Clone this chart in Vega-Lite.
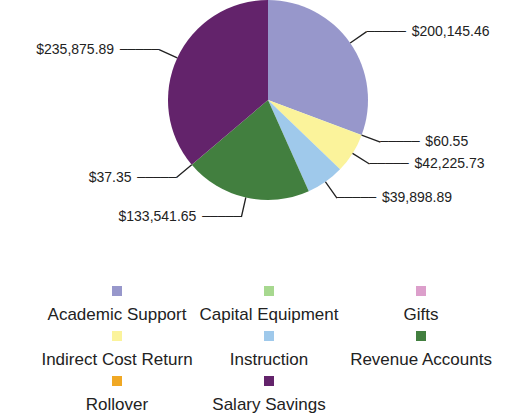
{
  "$schema": "https://vega.github.io/schema/vega-lite/v6.json",
  "background": "white",
  "padding": {"left": 17, "top": 0, "right": 0, "bottom": 0},
  "config": {
    "view": {"stroke": null},
    "font": "Liberation Sans",
    "header": {"labels": false, "title": null, "labelExpr": "''", "labelPadding": 0},
    "headerFacet": {"labels": false, "title": null, "labelExpr": "''", "labelPadding": 0}
  },
  "data": {"values": [
    {"category": "Academic Support", "value": 200145.46},
    {"category": "Capital Equipment", "value": 60.55},
    {"category": "Gifts", "value": 0},
    {"category": "Indirect Cost Return", "value": 42225.73},
    {"category": "Instruction", "value": 39898.89},
    {"category": "Revenue Accounts", "value": 133541.65},
    {"category": "Rollover", "value": 37.35},
    {"category": "Salary Savings", "value": 235875.89}
  ]},
  "spacing": 86,
  "bounds": "flush",
  "vconcat": [
    {
      "width": 502,
      "height": 200,
      "encoding": {
        "theta": {"field": "value", "type": "quantitative", "stack": true},
        "order": {"field": "category", "type": "ordinal", "sort": "ascending"}
      },
      "layer": [
        {
          "mark": {"type": "arc", "outerRadius": 100},
          "encoding": {
            "color": {
              "field": "category", "type": "nominal", "legend": null,
              "scale": {
                "domain": ["Academic Support", "Capital Equipment", "Gifts", "Indirect Cost Return", "Instruction", "Revenue Accounts", "Rollover", "Salary Savings"],
                "range": ["#9797cb", "#a7d88f", "#dc9fcb", "#fbf39b", "#9fc9eb", "#427f3f", "#f0a824", "#63236b"]
              }
            }
          }
        },
        {
          "mark": {"type": "arc", "innerRadius": 100, "outerRadius": 120, "padAngle": 3, "filled": false, "stroke": "#222222", "strokeWidth": 1.3},
          "encoding": {
            "detail": {"field": "category", "type": "nominal"},
            "strokeOpacity": {"condition": {"test": "datum.value > 0", "value": 1}, "value": 0}
          }
        },
        {
          "mark": {"type": "text", "radius": 120, "align": "left", "baseline": "middle", "font": "DejaVu Sans", "fontSize": 13, "color": "#222222"},
          "encoding": {
            "detail": {"field": "category", "type": "nominal"},
            "text": {"condition": {"test": "datum.value > 0 && datum.category < 'R'", "value": "─────"}, "value": ""}
          }
        },
        {
          "mark": {"type": "text", "radius": 120, "align": "right", "baseline": "middle", "font": "DejaVu Sans", "fontSize": 13, "color": "#222222"},
          "encoding": {
            "detail": {"field": "category", "type": "nominal"},
            "text": {"condition": {"test": "datum.value > 0 && datum.category >= 'R'", "value": "─────"}, "value": ""}
          }
        },
        {
          "mark": {"type": "text", "radius": 120, "align": "left", "baseline": "middle", "dx": 45, "fontSize": 14, "color": "#222222"},
          "encoding": {
            "detail": {"field": "category", "type": "nominal"},
            "text": {"field": "value", "type": "quantitative", "format": "$,.2f", "condition": {"test": "!(datum.value > 0 && datum.category < 'R')", "value": ""}}
          }
        },
        {
          "mark": {"type": "text", "radius": 120, "align": "right", "baseline": "middle", "dx": -45, "fontSize": 14, "color": "#222222"},
          "encoding": {
            "detail": {"field": "category", "type": "nominal"},
            "text": {"field": "value", "type": "quantitative", "format": "$,.2f", "condition": {"test": "!(datum.value > 0 && datum.category >= 'R')", "value": ""}}
          }
        }
      ]
    },
    {
      "facet": {"field": "category", "type": "nominal", "title": null, "header": {"labels": false, "title": null, "labelExpr": "''", "labelPadding": 0}},
      "columns": 3,
      "spacing": {"row": 11, "column": 0},
      "bounds": "flush",
      "spec": {
        "width": 152,
        "height": 34,
        "layer": [
          {
            "mark": {"type": "square", "size": 100, "opacity": 1, "yOffset": -12, "xOffset": 24},
            "encoding": {
              "color": {
                "field": "category", "type": "nominal", "legend": null,
                "scale": {
                  "domain": ["Academic Support", "Capital Equipment", "Gifts", "Indirect Cost Return", "Instruction", "Revenue Accounts", "Rollover", "Salary Savings"],
                  "range": ["#9797cb", "#a7d88f", "#dc9fcb", "#fbf39b", "#9fc9eb", "#427f3f", "#f0a824", "#63236b"]
                }
              }
            }
          },
          {
            "mark": {"type": "text", "fontSize": 17, "baseline": "middle", "dy": 12, "dx": 24, "color": "#222222"},
            "encoding": {"text": {"field": "category", "type": "nominal"}}
          }
        ]
      }
    }
  ]
}
